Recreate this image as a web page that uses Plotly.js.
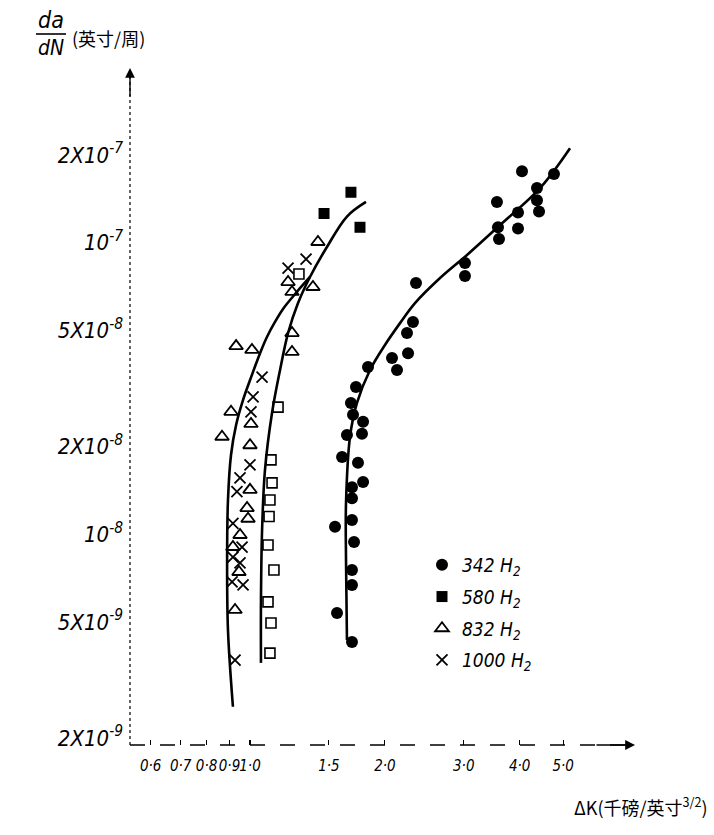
<!DOCTYPE html>
<html>
<head>
<meta charset="utf-8">
<script src="https://cdn.plot.ly/plotly-3.0.1.min.js"></script>
<style>html,body{margin:0;padding:0;background:#fff;}#chart{width:714px;height:835px;}</style>
</head>
<body>
<div id="chart"></div>
<script>
// ---- data (ΔK in ksi·in^1/2, da/dN in in/cycle) ----
const hz342_dK = [2.347,2.311,2.241,2.253,2.075,2.129,1.834,1.724,1.680,1.698,1.788,1.778,1.646,1.605,1.742,1.788,1.689,1.689,1.548,1.689,1.707,1.689,1.689,1.564,1.689,3.019,3.019,4.047,4.770,4.371,4.371,4.417,3.558,3.965,3.577,3.965,3.596];
const hz342_rate = [7.28e-8,5.35e-8,4.90e-8,4.18e-8,4.02e-8,3.66e-8,3.75e-8,3.20e-8,2.82e-8,2.57e-8,2.43e-8,2.21e-8,2.19e-8,1.84e-8,1.76e-8,1.51e-8,1.45e-8,1.33e-8,1.06e-8,1.12e-8,9.41e-9,7.54e-9,6.70e-9,5.37e-9,4.27e-9,8.52e-8,7.69e-8,1.76e-7,1.72e-7,1.54e-7,1.40e-7,1.28e-7,1.38e-7,1.27e-7,1.13e-7,1.12e-7,1.03e-7];

const hz580_dK = [1.680,1.463,1.760];
const hz580_rate = [1.49e-7,1.26e-7,1.13e-7];

const hz580open_dK = [1.286,1.155,1.114,1.120,1.108,1.103,1.097,1.131,1.097,1.114,1.108];
const hz580open_rate = [7.81e-8,2.73e-8,1.80e-8,1.50e-8,1.31e-8,1.15e-8,9.19e-9,7.54e-9,5.86e-9,4.96e-9,3.91e-9];

const hz832_dK = [1.418,1.382,1.216,1.241,1.241,1.241,0.931,1.010,0.907,1.005,0.866,1.000,1.000,0.985,0.990,0.950,0.916,0.945,0.926];
const hz832_rate = [1.006e-7,7.05e-8,7.33e-8,6.78e-8,4.90e-8,4.22e-8,4.42e-8,4.29e-8,2.63e-8,2.39e-8,2.16e-8,2.02e-8,1.42e-8,1.23e-8,1.13e-8,9.94e-9,9.04e-9,7.42e-9,5.50e-9];

const hz1000_dK = [1.216,1.334,1.064,1.016,1.005,1.000,0.950,0.935,0.916,0.960,0.916,0.950,0.912,0.965,0.926];
const hz1000_rate = [8.19e-8,8.79e-8,3.46e-8,2.96e-8,2.63e-8,1.73e-8,1.56e-8,1.40e-8,1.09e-8,9.04e-9,8.35e-9,7.97e-9,6.86e-9,6.70e-9,3.70e-9];

// fitted curves (hand drawn)
const curveA_dK = [0.916,0.893,0.889,0.893,0.907,0.931,0.965,1.010,1.053,1.091,1.137,1.185,1.266,1.361];
const curveA_rate = [2.56e-9,4.69e-9,8.16e-9,1.31e-8,1.87e-8,2.37e-8,2.89e-8,3.52e-8,4.18e-8,4.75e-8,5.35e-8,5.93e-8,6.72e-8,7.63e-8];
const curveB_dK = [1.058,1.058,1.064,1.080,1.120,1.167,1.216,1.280,1.361,1.485,1.646,1.815];
const curveB_rate = [3.62e-9,5.95e-9,1.03e-8,1.66e-8,2.61e-8,3.66e-8,4.90e-8,6.21e-8,7.63e-8,9.67e-8,1.23e-7,1.38e-7];
const curveC_dK = [1.646,1.638,1.638,1.672,1.733,1.853,2.001,2.162,2.335,2.656,3.051,3.614,4.440,5.18];
const curveC_rate = [4.34e-9,8.16e-9,1.28e-8,2.16e-8,2.82e-8,3.66e-8,4.46e-8,5.30e-8,6.21e-8,7.57e-8,9.08e-8,1.15e-7,1.54e-7,2.11e-7];

const xTickVals = [0.6,0.7,0.8,0.9,1.0,1.5,2.0,3.0,4.0,5.0];
const xTickText = ['0·6','0·7','0·8','0·9','1·0','1·5','2·0','3·0','4·0','5·0'];
const yTickVals = [2e-7,1e-7,5e-8,2e-8,1e-8,5e-9,2e-9];
const yTickText = ['2X10<sup>-7</sup>','10<sup>-7</sup>','5X10<sup>-8</sup>','2X10<sup>-8</sup>','10<sup>-8</sup>','5X10<sup>-9</sup>','2X10<sup>-9</sup>'];

const legendNames = ['342 H<sub>2</sub>','580 H<sub>2</sub>','832 H<sub>2</sub>','1000 H<sub>2</sub>'];

const hand = "'Liberation Sans Narrow','DejaVu Sans Condensed','Liberation Sans',sans-serif";
const cjk = "'Noto Sans CJK SC','Noto Sans',sans-serif";

const lineStyle = {color:'#000', width:2.6, shape:'spline', smoothing:1};

const traces = [
  {x:curveA_dK, y:curveA_rate, mode:'lines', line:lineStyle, showlegend:false, hoverinfo:'skip'},
  {x:curveB_dK, y:curveB_rate, mode:'lines', line:lineStyle, showlegend:false, hoverinfo:'skip'},
  {x:curveC_dK, y:curveC_rate, mode:'lines', line:lineStyle, showlegend:false, hoverinfo:'skip'},
  {x:hz342_dK, y:hz342_rate, mode:'markers', name:legendNames[0], legendgroup:'a',
   marker:{symbol:'circle', size:12, color:'#000'}},
  {x:hz580_dK, y:hz580_rate, mode:'markers', name:legendNames[1], legendgroup:'b',
   marker:{symbol:'square', size:11, color:'#000'}},
  {x:hz580open_dK, y:hz580open_rate, mode:'markers', name:'580 open', legendgroup:'b', showlegend:false,
   marker:{symbol:'square-open', size:10, color:'#000', line:{width:1.6, color:'#000'}}},
  {x:hz832_dK, y:hz832_rate, mode:'markers', name:legendNames[2], legendgroup:'c',
   marker:{symbol:'triangle-up-open', size:12, color:'#000', line:{width:1.8, color:'#000'}}},
  {x:hz1000_dK, y:hz1000_rate, mode:'markers', name:legendNames[3], legendgroup:'d',
   marker:{symbol:'x-thin-open', size:11, color:'#000', line:{width:1.8, color:'#000'}}}
];

const W = 714, H = 835, L = 130, R = 79, T = 68, B = 90;
const pw = W - L - R, ph = H - T - B;
const px = v => (v - L) / pw;
const py = v => (H - B - v) / ph;

const layout = {
  width: W, height: H,
  margin: {l:L, r:R, t:T, b:B},
  paper_bgcolor:'#fff', plot_bgcolor:'#fff',
  font: {family: hand, color:'#000', size:17},
  showlegend: true,
  legend: {x: px(422), y: py(546), xanchor:'left', yanchor:'top', bgcolor:'rgba(0,0,0,0)',
           font:{family:hand, size:19, style:'italic', color:'#000'},
           traceorder:'grouped', tracegroupgap:4, itemwidth:30},
  xaxis: {type:'log', range:[(130-250)/448, (635-250)/448], showgrid:false, zeroline:false,
          showline:false, tickmode:'array', tickvals:xTickVals, ticktext:xTickText, tickangle:0,
          ticks:'inside', ticklen:5, tickwidth:1.2, tickcolor:'#000', ticklabelstandoff:10,
          tickfont:{family:hand, size:15, style:'italic', color:'#000'}},
  yaxis: {type:'log', range:[-6.699-(745-155)/291.5, -6.699+(155-68)/291.5], showgrid:false, zeroline:false,
          showline:false, tickmode:'array', tickvals:yTickVals, ticktext:yTickText,
          ticks:'', ticklabelstandoff:6,
          tickfont:{family:hand, size:22, style:'italic', color:'#000'}},
  shapes: [
    {type:'line', xref:'paper', yref:'paper', x0:0, x1:0, y0:0, y1:1, line:{color:'#000', width:1.2, dash:'dot'}},
    {type:'line', xref:'paper', yref:'paper', x0:0, x1:1, y0:0, y1:0, line:{color:'#000', width:1.3, dash:'longdash'}},
    {type:'line', xref:'paper', yref:'paper', x0:px(36), x1:px(66), y0:py(34), y1:py(34), line:{color:'#000', width:1.6}}
  ],
  annotations: [
    {xref:'paper', yref:'paper', x:0, y:1, ax:0, ay:30, showarrow:true, arrowhead:2, arrowsize:1.4, arrowwidth:1.4, arrowcolor:'#000', text:''},
    {xref:'paper', yref:'paper', x:1, y:0, ax:-40, ay:0, showarrow:true, arrowhead:2, arrowsize:1.4, arrowwidth:1.4, arrowcolor:'#000', text:''},
    {xref:'paper', yref:'paper', x:px(51), y:py(20), xanchor:'center', yanchor:'middle', text:'da', showarrow:false,
     font:{family:hand, size:23, style:'italic', color:'#000'}},
    {xref:'paper', yref:'paper', x:px(51), y:py(48), xanchor:'center', yanchor:'middle', text:'dN', showarrow:false,
     font:{family:hand, size:21, style:'italic', color:'#000'}},
    {xref:'paper', yref:'paper', x:px(70), y:py(38), xanchor:'left', yanchor:'middle', text:'(英寸/周)', showarrow:false,
     font:{family:cjk, size:18, color:'#000'}},
    {xref:'paper', yref:'paper', x:px(710), y:py(806), xanchor:'right', yanchor:'middle', text:'ΔK(千磅/英寸<sup>3/2</sup>)', showarrow:false,
     font:{family:cjk, size:18, color:'#000'}}
  ]
};

Plotly.newPlot('chart', traces, layout, {staticPlot:true, displayModeBar:false});
</script>
</body>
</html>
